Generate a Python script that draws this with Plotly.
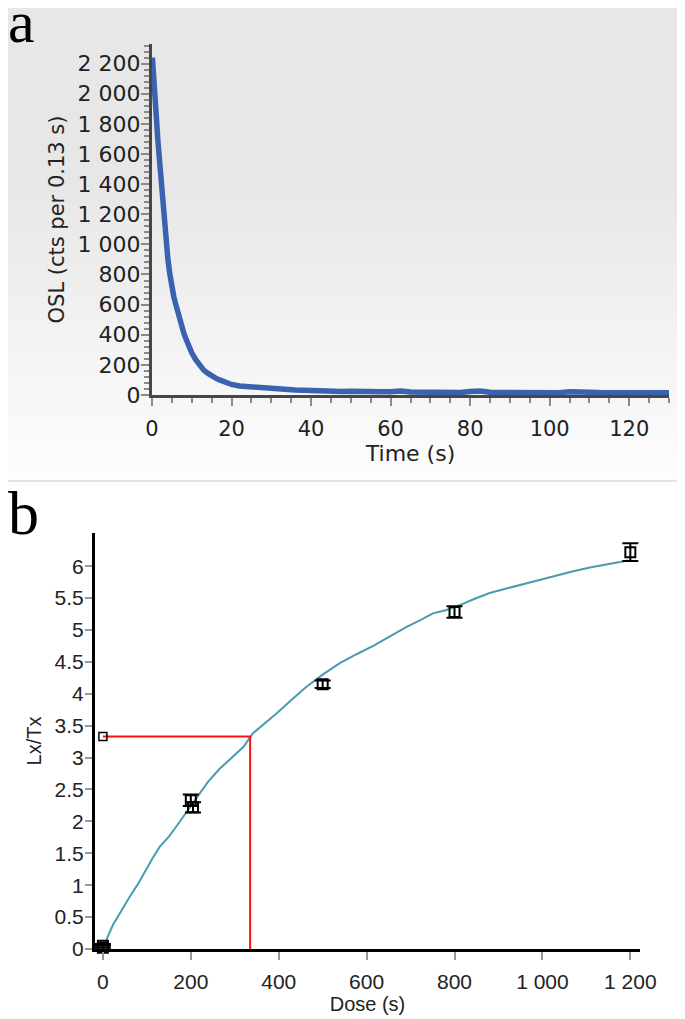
import plotly.graph_objects as go

W, H = 685, 1019
OFF = 8  # page body margin in the viewer


def px(x):
    return (x - OFF) / W


def py(y):
    return 1 - (y - OFF) / H


# ---------------- Panel a data (OSL decay curve) ----------------
osl_time = [0.1, 0.5, 1.0, 1.5, 2.0, 2.5, 3.0, 3.5, 4.0, 4.5, 5.0, 5.5, 6.0, 6.5,
            7.0, 7.5, 8.0, 8.5, 9.0, 9.5, 10, 11, 12, 13, 14, 15, 16, 17, 18, 19,
            20, 22, 24, 26, 28, 30, 33, 36, 40, 42.5, 45, 47.5, 50, 52.5, 55, 57.5,
            60, 62.5, 65, 67.5, 70, 72.5, 75, 77.5, 80, 82.5, 85, 87.5, 90, 92.5,
            95, 97.5, 100, 102.5, 105, 107.5, 110, 112.5, 115, 117.5, 120, 122.5,
            125, 127.5, 130]
osl_counts = [2240, 2120, 1880, 1680, 1500, 1330, 1170, 1020, 900, 800, 710, 650, 600, 545,
              500, 455, 410, 375, 340, 305, 280, 235, 195, 165, 145, 125, 112, 100, 88, 78,
              70, 60, 55, 50, 45, 40, 36, 33, 30, 26, 28, 24, 25, 22, 24, 21,
              22, 27, 20, 18, 21, 17, 19, 16, 23, 26, 18, 17, 16, 19,
              23, 17, 16, 15, 21, 24, 19, 16, 15, 17, 16, 15,
              14, 16, 15]

a_xticks = [0, 20, 40, 60, 80, 100, 120]
a_xticktext = ["0", "20", "40", "60", "80", "100", "120"]
a_yticks = [0, 200, 400, 600, 800, 1000, 1200, 1400, 1600, 1800, 2000, 2200]
a_yticktext = ["0", "200", "400", "600", "800", "1 000", "1 200", "1 400",
               "1 600", "1 800", "2 000", "2 200"]

# ---------------- Panel b data (dose response) ----------------
dose = [0, 0, 200, 205, 500, 800, 1200]
lxtx = [0.05, 0.02, 2.33, 2.22, 4.15, 5.28, 6.22]
lxtx_err = [0.03, 0.03, 0.09, 0.08, 0.06, 0.09, 0.14]

fit_dose = [0, 10, 23, 40, 61, 80, 95, 112, 129, 150, 167, 185, 201, 220, 239, 265,
            296, 320, 341, 370, 395, 430, 463, 500, 539, 577, 615, 653, 691, 721,
            751, 780, 812, 846, 880, 918, 956, 994, 1032, 1070, 1108, 1146, 1184, 1195]
fit_lxtx = [0.0, 0.18, 0.38, 0.58, 0.82, 1.02, 1.21, 1.41, 1.60, 1.76, 1.92, 2.10,
            2.26, 2.44, 2.62, 2.82, 3.01, 3.17, 3.38, 3.54, 3.69, 3.91, 4.11, 4.30,
            4.48, 4.62, 4.75, 4.90, 5.05, 5.15, 5.26, 5.31, 5.39, 5.49, 5.58, 5.65,
            5.72, 5.79, 5.86, 5.92, 5.98, 6.03, 6.07, 6.09]

natural_lxtx = 3.33
equiv_dose = 335

b_xticks = [0, 200, 400, 600, 800, 1000, 1200]
b_xticktext = ["0", "200", "400", "600", "800", "1 000", "1 200"]
b_yticks = [0, 0.5, 1, 1.5, 2, 2.5, 3, 3.5, 4, 4.5, 5, 5.5, 6]
b_yticktext = ["0", "0.5", "1", "1.5", "2", "2.5", "3", "3.5", "4", "4.5", "5", "5.5", "6"]

fig = go.Figure()

# Panel a curve
fig.add_trace(go.Scatter(x=osl_time, y=osl_counts, mode="lines",
                         line=dict(color="#3a62b0", width=5.5),
                         xaxis="x", yaxis="y", showlegend=False, cliponaxis=False))

# Panel b: fitted curve
fig.add_trace(go.Scatter(x=fit_dose, y=fit_lxtx, mode="lines",
                         line=dict(color="#4a9bb0", width=2),
                         xaxis="x2", yaxis="y2", showlegend=False, cliponaxis=False))

# Panel b: red interpolation lines
fig.add_trace(go.Scatter(x=[0, equiv_dose, equiv_dose], y=[natural_lxtx, natural_lxtx, 0],
                         mode="lines", line=dict(color="#ff1010", width=2),
                         xaxis="x2", yaxis="y2", showlegend=False, cliponaxis=False))

# Panel b: natural point
fig.add_trace(go.Scatter(x=[0], y=[natural_lxtx], mode="markers",
                         marker=dict(symbol="square-open", size=8, color="black",
                                     line=dict(width=1.5)),
                         xaxis="x2", yaxis="y2", showlegend=False, cliponaxis=False))

# Panel b: regenerated points
fig.add_trace(go.Scatter(x=dose, y=lxtx, mode="markers",
                         marker=dict(symbol="square-open", size=10, color="black",
                                     line=dict(width=2)),
                         error_y=dict(type="data", array=lxtx_err, color="black",
                                      thickness=2, width=8),
                         xaxis="x2", yaxis="y2", showlegend=False, cliponaxis=False))

# Background gradient for panel a (bands), in page pixels
shapes = []
n_bands = 40
top_c, bot_c = 231, 253
for i in range(n_bands):
    y0 = i * 480 / n_bands
    y1 = (i + 1) * 480 / n_bands
    frac = max(0.0, (y0 - 180) / (470 - 180))
    frac = min(frac, 1.0)
    c = int(round(top_c + (bot_c - top_c) * frac))
    shapes.append(dict(type="rect", xref="paper", yref="paper", x0=px(0), x1=px(W + OFF),
                       y0=py(y1), y1=py(y0) + 0.02 * (i == 0), fillcolor=f"rgb({c},{c},{c})",
                       line=dict(width=0), layer="below"))
shapes.append(dict(type="line", xref="paper", yref="paper", x0=px(0), x1=px(W + OFF),
                   y0=py(481), y1=py(481), line=dict(color="#e2e2e2", width=2),
                   layer="below"))

fontA = "DejaVu Sans, Verdana, sans-serif"
fontB = "Liberation Sans, Arial, sans-serif"

fig.update_layout(
    width=W, height=H,
    margin=dict(l=0, r=0, t=0, b=0, autoexpand=False),
    paper_bgcolor="white",
    plot_bgcolor="rgba(0,0,0,0)",
    shapes=shapes,
    xaxis=dict(domain=[px(152), px(669)], range=[0, 130], anchor="y", automargin=False,
               showline=True, linecolor="#474747", linewidth=3,
               showgrid=False, zeroline=False,
               tickvals=a_xticks, ticktext=a_xticktext,
               ticks="outside", ticklen=8, tickwidth=1.5, tickcolor="#8a8a8a",
               minor=dict(dtick=5, ticks="outside", ticklen=5, tickwidth=1.5,
                          tickcolor="#8a8a8a", showgrid=False),
               ticklabelstandoff=5,
               tickfont=dict(family=fontA, size=21, color="#222"),
               title=dict(text="Time (s)", font=dict(family=fontA, size=22, color="#222"),
                          standoff=4)),
    yaxis=dict(domain=[py(395), py(44)], range=[0, 2330], anchor="x", automargin=False,
               showline=True, linecolor="#474747", linewidth=3,
               showgrid=False, zeroline=False,
               tickvals=a_yticks, ticktext=a_yticktext,
               ticks="outside", ticklen=8, tickwidth=1.5, tickcolor="#8a8a8a",
               minor=dict(dtick=40, ticks="outside", ticklen=5, tickwidth=1.5,
                          tickcolor="#8a8a8a", showgrid=False),
               ticklabelstandoff=-4,
               tickfont=dict(family=fontA, size=22, color="#222"),
               title=dict(text="OSL (cts per 0.13 s)",
                          font=dict(family=fontA, size=21, color="#222"), standoff=8)),
    xaxis2=dict(domain=[px(95), px(640)], range=[-18, 1222], anchor="y2", automargin=False,
                showline=True, linecolor="black", linewidth=3,
                showgrid=False, zeroline=False,
                tickvals=b_xticks, ticktext=b_xticktext,
                ticks="outside", ticklen=8, tickwidth=1.5, tickcolor="#999",
                ticklabelstandoff=4,
                tickfont=dict(family=fontB, size=21, color="#222"),
                title=dict(text="Dose (s)", font=dict(family=fontB, size=20, color="#222"),
                           standoff=4)),
    yaxis2=dict(domain=[py(949), py(533)], range=[0, 6.52], anchor="x2", automargin=False,
                showline=True, linecolor="black", linewidth=3,
                showgrid=False, zeroline=False,
                tickvals=b_yticks, ticktext=b_yticktext,
                ticks="outside", ticklen=7, tickwidth=1.5, tickcolor="#999",
                ticklabelstandoff=-3,
                tickfont=dict(family=fontB, size=21, color="#222"),
                title=dict(text="Lx/Tx", font=dict(family=fontB, size=20, color="#222"),
                           standoff=8)),
    annotations=[
        dict(text="a", xref="paper", yref="paper", x=px(6), y=py(-13),
             xanchor="left", yanchor="top", showarrow=False,
             font=dict(family="Liberation Serif, Times New Roman, serif", size=60,
                       color="black")),
        dict(text="b", xref="paper", yref="paper", x=px(6), y=py(477),
             xanchor="left", yanchor="top", showarrow=False,
             font=dict(family="Liberation Serif, Times New Roman, serif", size=62,
                       color="black")),
    ],
)

fig.write_html("out.html")
